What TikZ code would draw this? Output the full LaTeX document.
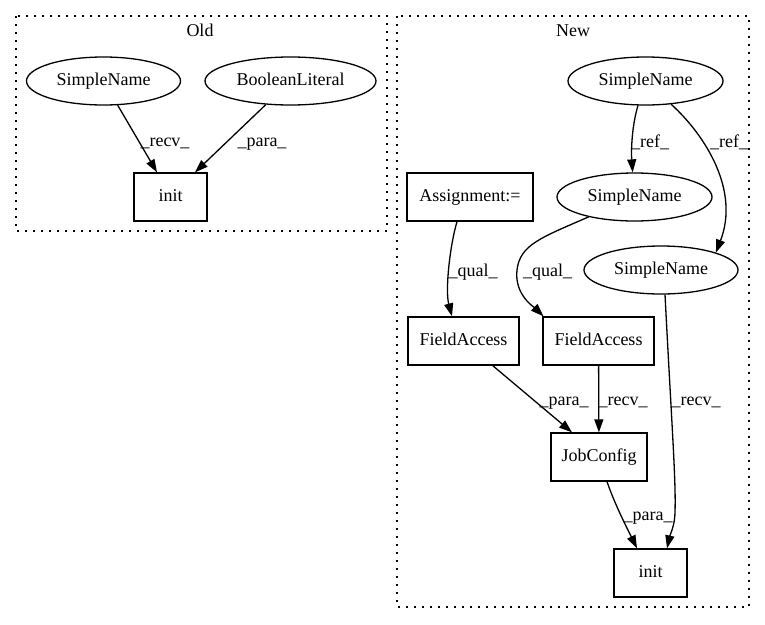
\documentclass[tikz,border=0pt]{standalone}
\usepackage{fontspec}
\setmainfont{Liberation Serif}
\usetikzlibrary{shapes.geometric,arrows.meta,calc}
\begin{document}
\begin{tikzpicture}[x=1pt,y=-1pt,
  every node/.style={font=\fontsize{18}{20}\selectfont, text height=12pt, text depth=4pt, inner sep=0pt},
  ell/.style={draw, ellipse, line width=1.3pt, minimum height=48pt},
  box/.style={draw, rectangle, line width=1.3pt, minimum height=48pt},
  edge/.style={draw, line width=1.3pt, -{Triangle[length=13pt,width=9pt]}},
  lbl/.style={anchor=base},
  cluster/.style={draw, line width=1.6pt, dash pattern=on 1.6pt off 6.4pt}]
\useasboundingbox (0,0) rectangle (765,624);
% Old cluster
\draw[cluster] (16,16) rectangle (387,231);
\node[lbl] (oldlbl) at (200,36) {Old};
\node[ell, minimum width=154pt] (osn) at (103.5,81) {SimpleName};
\node[ell, minimum width=171pt] (obl) at (290.5,81) {BooleanLiteral};
\node[box, minimum width=73pt] (oinit) at (170.5,197) {init};
\draw[edge] (osn) -- ($(oinit.north)+(-13.5,0)$);
\draw[edge] (obl) -- ($(oinit.north)+(24.5,0)$);
\node[lbl] (l1) at (165,146) {\_recv\_};
\node[lbl] (l2) at (262,146) {\_para\_};
% New cluster
\draw[cluster] (397,16) rectangle (749,607);
\node[lbl] (newlbl) at (573,36) {New};
\node[ell, minimum width=155pt] (nsn1) at (645.5,81) {SimpleName};
\node[ell, minimum width=155pt] (nsn2) at (634.5,197) {SimpleName};
\node[ell, minimum width=154pt] (nsn3) at (661,270) {SimpleName};
\node[box, minimum width=126pt] (asg) at (470,197) {Assignment:=};
\node[box, minimum width=111pt] (fa1) at (463.5,341) {FieldAccess};
\node[box, minimum width=111pt] (fa2) at (598.5,341) {FieldAccess};
\node[box, minimum width=96pt] (jc) at (599,457) {JobConfig};
\node[box, minimum width=73pt] (ninit) at (650.5,573) {init};
\draw[edge] (nsn1) .. controls (632,125) and (631,150) .. (nsn2);
\draw[edge] (nsn1) .. controls (705,135) and (740,190) .. (nsn3.north east);
\draw[edge] ($(asg.south)+(-13,0)$) .. controls (450,245) and (445,290) .. ($(fa1.north)+(-11.5,0)$);
\draw[edge] (nsn2) .. controls (540,238) and (520,245) .. (517,270) .. controls (514,295) and (535,308) .. ($(fa2.north)+(-55,0)$);
\draw[edge] ($(nsn3.south)+(4,0)$) .. controls (672,430) and (676,480) .. (675,512) .. controls (675,525) and (670,535) .. ($(ninit.north)+(16.5,0)$);
\draw[edge] (fa1) -- ($(jc.north)+(-27,0)$);
\draw[edge] (fa2) -- (jc);
\draw[edge] ($(jc.south)+(8,0)$) .. controls (615,505) and (628,530) .. ($(ninit.north)+(-13.5,0)$);
\node[lbl] (l3) at (650,147) {\_ref\_};
\node[lbl] (l4) at (729,147) {\_ref\_};
\node[lbl] (l5) at (473,276) {\_qual\_};
\node[lbl] (l6) at (547.5,276) {\_qual\_};
\node[lbl] (l7) at (564,405) {\_para\_};
\node[lbl] (l8) at (623,405) {\_recv\_};
\node[lbl] (l9) at (696,405) {\_recv\_};
\node[lbl] (l10) at (648,520) {\_para\_};
\end{tikzpicture}
\end{document}
